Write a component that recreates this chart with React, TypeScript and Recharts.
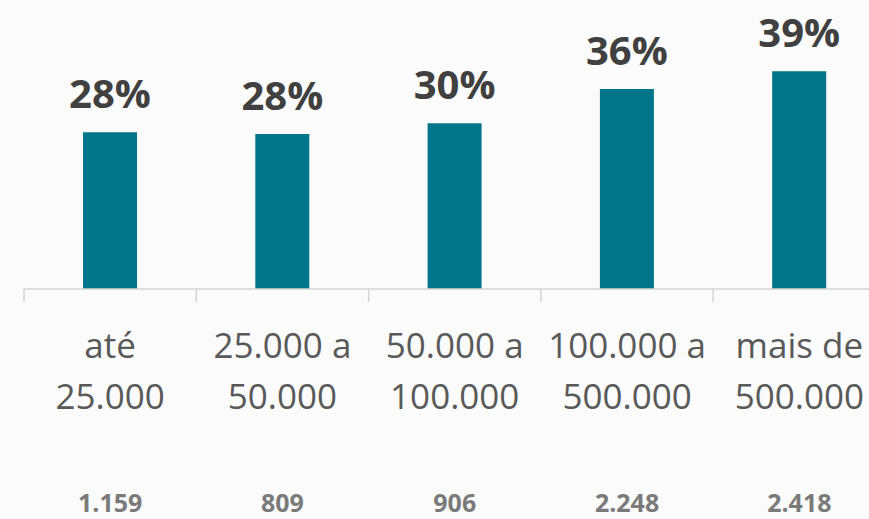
import React from 'react';
import { BarChart, Bar, XAxis, YAxis, LabelList } from 'recharts';

const categoryLine1 = ['até', '25.000 a', '50.000 a', '100.000 a', 'mais de'];
const categoryLine2 = ['25.000', '50.000', '100.000', '500.000', '500.000'];
const shares = [28.0, 27.7, 29.6, 35.7, 38.9];
const counts = ['1.159', '809', '906', '2.248', '2.418'];

const data = categoryLine1.map((c, i) => ({
  name: `${c} ${categoryLine2[i]}`,
  line1: c,
  line2: categoryLine2[i],
  share: shares[i],
  count: counts[i],
}));

const FONT = '"Open Sans", "Noto Sans", sans-serif';

const CategoryTick = (props: any) => {
  const { x, y, payload, index } = props;
  const half = payload && payload.offset ? payload.offset : 86.15;
  const d = data[index] || data.find((e) => e.name === payload.value);
  return (
    <g>
      <line x1={x - half} x2={x - half} y1={y} y2={y + 13} stroke="#d4d4d4" strokeWidth={1.5} />
      {index === data.length - 1 && (
        <line x1={x + half} x2={x + half} y1={y} y2={y + 13} stroke="#d4d4d4" strokeWidth={1.5} />
      )}
      <text x={x} y={y + 69} textAnchor="middle" fontFamily={FONT} fontSize={35} fill="#595959">
        {d ? d.line1 : ''}
      </text>
      <text x={x} y={y + 120} textAnchor="middle" fontFamily={FONT} fontSize={35} fill="#595959">
        {d ? d.line2 : ''}
      </text>
      <text x={x} y={y + 223} textAnchor="middle" fontFamily={FONT} fontSize={25} fontWeight={700} fill="#7a7a7a">
        {d ? d.count : ''}
      </text>
    </g>
  );
};

const ValueLabel = (props: any) => {
  const { x, y, width, value } = props;
  return (
    <text
      x={x + width / 2}
      y={y - 24}
      textAnchor="middle"
      fontFamily={FONT}
      fontSize={40}
      fontWeight={700}
      fill="#404040"
    >
      {`${Math.round(value)}%`}
    </text>
  );
};

export default function App() {
  return (
    <div
      style={{
        position: 'fixed',
        left: 0,
        top: 0,
        width: 869,
        height: 519,
        overflow: 'hidden',
        background: '#fbfbfb',
      }}
    >
      <BarChart
        width={900}
        height={519}
        data={data}
        margin={{ top: 9, right: 14.5, left: 24, bottom: 0 }}
      >
        <XAxis
          dataKey="name"
          height={230}
          interval={0}
          tickSize={0}
          tickMargin={0}
          tickLine={false}
          axisLine={{ stroke: '#d4d4d4', strokeWidth: 1.5 }}
          tick={<CategoryTick />}
        />
        <YAxis hide domain={[0, 50]} />
        <Bar dataKey="share" fill="#007589" barSize={54} isAnimationActive={false}>
          <LabelList dataKey="share" content={<ValueLabel />} />
        </Bar>
      </BarChart>
    </div>
  );
}
